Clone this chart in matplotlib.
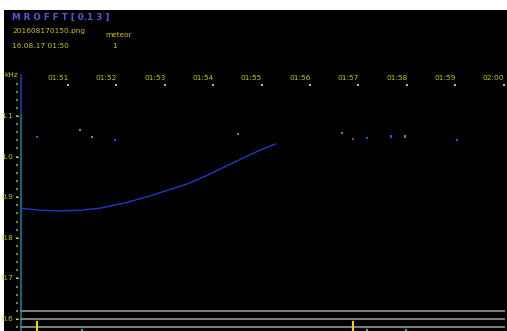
import numpy as np
import matplotlib.pyplot as plt
from matplotlib.patches import Rectangle

# time axis: minutes after 01:50
tick_min = [1, 2, 3, 4, 5, 6, 7, 8, 9, 10]
tick_lbl = ['01:51', '01:52', '01:53', '01:54', '01:55',
            '01:56', '01:57', '01:58', '01:59', '02:00']
freq_ticks = [1.1, 1.0, 0.9, 0.8, 0.7, 0.6]
freq_lbl = ['1.1', '1.0', '0.9', '0.8', '0.7', '0.6']

# meteor trace (minutes, kHz)
trace_t = [0.0, 0.42, 0.83, 1.25, 1.66, 2.18, 2.69, 3.21, 3.52, 3.93, 4.31, 4.66, 4.97, 5.28]
trace_f = [0.873, 0.868, 0.866, 0.868, 0.873, 0.886, 0.903, 0.923, 0.935, 0.957, 0.979, 0.999, 1.016, 1.031]

# isolated echoes near 1.05 kHz
echo_t = [0.36, 1.25, 1.50, 1.97, 4.51, 6.66, 6.89, 7.18, 7.67, 7.96, 9.04]
echo_f = [1.048, 1.066, 1.048, 1.041, 1.056, 1.058, 1.044, 1.046, 1.050, 1.050, 1.041]
echo_c = ['#8030c0', '#20c080', '#20b0c0', '#3050e0', '#20a0a0',
          '#20a0a0', '#b03070', '#3050e0', '#3050e0', '#20a0b0', '#3050e0']

# markers along the bottom
ymark_t = [0.36, 6.89]
cmark_t = [1.29, 7.18, 7.98]
gray_f = [0.620, 0.600, 0.580]

W, H = 507, 331
x0, px_min = 19.6, 48.4        # pixel of 01:50, pixels per minute
y11, px_01 = 116.0, 406.0      # pixel of 1.1 kHz, pixels per kHz
yellow = '#c8c800'


def fy(y):
    return 1 - y / H


fig = plt.figure(figsize=(W / 100, H / 100), dpi=100)
fig.patch.set_facecolor('white')
bg = fig.add_axes([0, 0, 1, 1], zorder=-5)
bg.axis('off')
bg.set_xlim(0, 1)
bg.set_ylim(0, 1)
bg.add_patch(Rectangle((4 / W, 0), (W - 4) / W, fy(10), facecolor='black', edgecolor='none'))

top_px = 75.4
ax = fig.add_axes([x0 / W, 0, (W - x0) / W, fy(top_px)], zorder=1)
ax.set_facecolor('none')
ax.set_xlim(0, (W - x0) / px_min)
f_top = 1.1 + (y11 - top_px) / px_01
f_bot = 1.1 - (H - y11) / px_01
ax.set_ylim(f_bot, f_top)
ax.axis('off')

# left axis line
ax.plot([0.02, 0.02], [1.1, f_top], color='#1838b8', lw=1.2, clip_on=False)
ax.plot([0.02, 0.02], [f_bot, 1.1], color='#137c98', lw=1.2, clip_on=False)

# gray bars at bottom
for g in gray_f:
    ax.plot([0.02, 10.0], [g, g], color='#7a7a7a', lw=1.5)

ax.plot(trace_t, trace_f, color='#2238c8', lw=1.0)
ax.scatter(echo_t, echo_f, s=3, c=echo_c, marker='s', lw=0)

for t in ymark_t:
    ax.plot([t, t], [f_bot, 0.593], color='#e0e000', lw=1.5)
ax.scatter(cmark_t, [0.573] * len(cmark_t), s=4, c='#20b0b0', marker='s', lw=0)

# time labels and tick dots
lab_f = 1.1 + (y11 - 78) / px_01
dot_f = 1.1 + (y11 - 85) / px_01
for t, s in zip(tick_min, tick_lbl):
    ax.text(t - 10 / px_min, lab_f, s, color=yellow, fontsize=5.3,
            ha='center', va='center', clip_on=False)
ax.scatter(tick_min, [dot_f] * len(tick_min), s=1.5, c=yellow, marker='s', lw=0)

# frequency labels and ticks
for f, s in zip(freq_ticks, freq_lbl):
    ax.text(-6.5 / px_min, f, s, color=yellow, fontsize=5.3,
            ha='right', va='center', clip_on=False)
    ax.plot([-4 / px_min, -1.5 / px_min], [f, f], color=yellow, lw=0.8, clip_on=False)
minor_f = np.arange(0.58, 1.19, 0.02)
ax.scatter([-3 / px_min] * len(minor_f), minor_f, s=1, c='#8a8a00', marker='s', lw=0,
           clip_on=False)
fig.text(4 / W, fy(75), 'kHz', color=yellow, fontsize=5.3, va='center', ha='left')

# header
fig.text(12 / W, fy(17.5), 'M R O F F T [ 0.1 3 ]', color='#5858d8', fontsize=6.3,
         va='center', ha='left', fontweight='bold')
fig.text(12 / W, fy(31.5), '201608170150.png', color=yellow, fontsize=5.3,
         va='center', ha='left')
fig.text(105 / W, fy(35), 'meteor', color=yellow, fontsize=5.3, va='center', ha='left')
fig.text(12 / W, fy(46), '16.08.17 01:50', color=yellow, fontsize=5.3,
         va='center', ha='left')
fig.text(115 / W, fy(46), '1', color=yellow, fontsize=5.3, va='center', ha='center')

fig.savefig('out.png', dpi=100, facecolor='white')
